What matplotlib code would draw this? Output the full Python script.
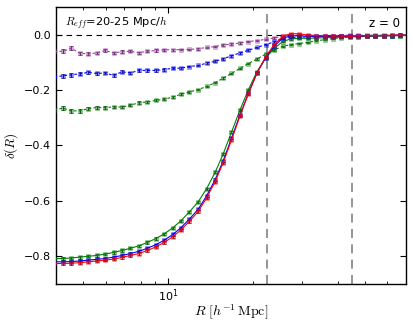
import numpy as np
import matplotlib
matplotlib.use("Agg")
import matplotlib.pyplot as plt
from matplotlib.ticker import NullFormatter, FixedLocator
from matplotlib.colors import to_rgba

# radius bins (h^-1 Mpc)
R = [3.95, 4.23, 4.53, 4.86, 5.21, 5.58, 5.98, 6.41, 6.86, 7.35,
     7.88, 8.44, 9.05, 9.69, 10.4, 11.1, 11.9, 12.8, 13.7, 14.7,
     15.7, 16.8, 18.0, 19.3, 20.7, 22.2, 23.8, 25.5, 27.3, 29.2,
     31.3, 33.6, 36.0, 38.5, 41.3, 44.2, 47.4, 50.8, 54.4, 58.3,
     62.5, 66.9, 71.7]

# solid profiles
solid_red = [-0.826, -0.826, -0.825, -0.823, -0.820, -0.817, -0.814, -0.810, -0.804, -0.797,
             -0.790, -0.779, -0.766, -0.750, -0.729, -0.705, -0.674, -0.638, -0.590, -0.530,
             -0.462, -0.380, -0.294, -0.213, -0.138, -0.080, -0.036, -0.006, 0.004, 0.003,
             -0.001, -0.003, -0.004, -0.005, -0.005, -0.005, -0.004, -0.004, -0.003, -0.003,
             -0.002, -0.002, -0.001]
solid_blue = [-0.820, -0.820, -0.819, -0.817, -0.814, -0.811, -0.808, -0.803, -0.797, -0.790,
              -0.782, -0.771, -0.758, -0.742, -0.721, -0.697, -0.666, -0.630, -0.582, -0.523,
              -0.455, -0.374, -0.290, -0.211, -0.138, -0.083, -0.042, -0.013, -0.004, -0.004,
              -0.006, -0.006, -0.006, -0.006, -0.006, -0.005, -0.005, -0.004, -0.004, -0.003,
              -0.003, -0.002, -0.002]
solid_green = [-0.808, -0.808, -0.806, -0.803, -0.800, -0.797, -0.792, -0.786, -0.779, -0.771,
               -0.762, -0.750, -0.736, -0.719, -0.697, -0.672, -0.640, -0.603, -0.556, -0.497,
               -0.430, -0.352, -0.272, -0.198, -0.133, -0.085, -0.050, -0.025, -0.015, -0.013,
               -0.013, -0.012, -0.011, -0.010, -0.009, -0.008, -0.007, -0.006, -0.005, -0.004,
               -0.004, -0.003, -0.002]

# dashed profiles
dash_purple = [-0.060, -0.060, -0.049, -0.067, -0.069, -0.066, -0.057, -0.066, -0.061, -0.060,
               -0.065, -0.060, -0.057, -0.055, -0.054, -0.054, -0.053, -0.051, -0.046, -0.043,
               -0.037, -0.034, -0.030, -0.025, -0.021, -0.017, -0.012, -0.005, -0.002, -0.002,
               -0.003, -0.003, -0.003, -0.003, -0.003, -0.002, -0.002, -0.002, -0.002, -0.001,
               -0.001, -0.001, -0.001]
dash_blue = [-0.153, -0.148, -0.145, -0.141, -0.136, -0.140, -0.138, -0.147, -0.134, -0.138,
             -0.129, -0.129, -0.129, -0.126, -0.121, -0.121, -0.115, -0.111, -0.103, -0.096,
             -0.087, -0.076, -0.066, -0.056, -0.046, -0.036, -0.026, -0.014, -0.010, -0.009,
             -0.008, -0.008, -0.007, -0.007, -0.006, -0.005, -0.005, -0.004, -0.004, -0.003,
             -0.003, -0.002, -0.002]
dash_green = [-0.272, -0.265, -0.275, -0.275, -0.267, -0.263, -0.263, -0.261, -0.261, -0.255,
              -0.245, -0.243, -0.237, -0.233, -0.225, -0.215, -0.207, -0.198, -0.187, -0.173,
              -0.157, -0.140, -0.122, -0.104, -0.088, -0.070, -0.055, -0.042, -0.036, -0.032,
              -0.028, -0.022, -0.018, -0.014, -0.011, -0.009, -0.007, -0.006, -0.005, -0.004,
              -0.003, -0.003, -0.002]

# error bars
err_solid = [0.006, 0.005, 0.005, 0.005, 0.004, 0.004, 0.004, 0.004, 0.004, 0.004,
             0.004, 0.004, 0.004, 0.004, 0.004, 0.004, 0.004, 0.004, 0.004, 0.004,
             0.004, 0.004, 0.004, 0.003, 0.003, 0.003, 0.003, 0.003, 0.003, 0.003,
             0.002, 0.002, 0.002, 0.002, 0.002, 0.002, 0.002, 0.002, 0.002, 0.002,
             0.002, 0.002, 0.002]
err_dash = [0.008, 0.007, 0.007, 0.006, 0.006, 0.005, 0.005, 0.005, 0.005, 0.004,
            0.004, 0.004, 0.004, 0.004, 0.004, 0.003, 0.003, 0.003, 0.003, 0.003,
            0.003, 0.003, 0.003, 0.003, 0.003, 0.003, 0.003, 0.002, 0.002, 0.002,
            0.002, 0.002, 0.002, 0.002, 0.002, 0.002, 0.002, 0.002, 0.002, 0.002,
            0.002, 0.002, 0.002]

R_eff_mid = 22.5

fig = plt.figure(figsize=(4.13, 3.30), dpi=100)
ax = fig.add_axes([0.1356, 0.1394, 0.8475, 0.8394])


def draw(y, err, color, ls):
    ax.errorbar(R, y, yerr=err, fmt="s", linestyle=ls, color=color, lw=0.8,
                ms=2.6, mfc=to_rgba(color, 0.45), mec=to_rgba(color, 0.45), mew=0.4,
                ecolor="k", elinewidth=0.6, capsize=1.5, capthick=0.6, zorder=3)


draw(dash_purple, err_dash, "#a03ca8", (0, (2.5, 2)))
draw(dash_blue, err_dash, "b", (0, (2.5, 2)))
draw(dash_green, err_dash, "g", (0, (2.5, 2)))
draw(solid_green, err_solid, "g", "-")
draw(solid_blue, err_solid, "b", "-")
draw(solid_red, err_solid, "r", "-")

ax.axhline(0.0, color="k", ls=(0, (5, 4)), lw=0.8, zorder=1)
ax.axvline(R_eff_mid, color="0.55", ls=(0, (5, 3.5)), lw=1.3, zorder=1)
ax.axvline(2 * R_eff_mid, color="0.55", ls=(0, (5, 3.5)), lw=1.3, zorder=1)

ax.set_xscale("log")
ax.set_xlim(4, 70)
ax.set_ylim(-0.9, 0.1)
ax.yaxis.set_major_locator(FixedLocator([-0.8, -0.6, -0.4, -0.2, 0.0]))
ax.xaxis.set_minor_formatter(NullFormatter())

ax.tick_params(which="both", direction="in", top=True, right=True, labelsize=8)
ax.tick_params(axis="x", pad=2.5)
ax.tick_params(which="major", length=4.5, width=0.8)
ax.tick_params(which="minor", length=2.5, width=0.6)
for s in ax.spines.values():
    s.set_linewidth(1.0)

ax.set_xlabel(r"$R\ [h^{-1}\,\mathrm{Mpc}]$", fontsize=10, math_fontfamily="cm", labelpad=-1)
ax.set_ylabel(r"$\delta(R)$", fontsize=9.5, math_fontfamily="cm", labelpad=3)

ax.text(0.026, 0.942, r"$R_{eff}$=20-25 Mpc/$h$", transform=ax.transAxes,
        fontsize=8.2, va="center", ha="left", math_fontfamily="cm")
ax.text(0.983, 0.942, "z = 0", transform=ax.transAxes,
        fontsize=8.5, va="center", ha="right")

fig.savefig("out.png", dpi=100)
